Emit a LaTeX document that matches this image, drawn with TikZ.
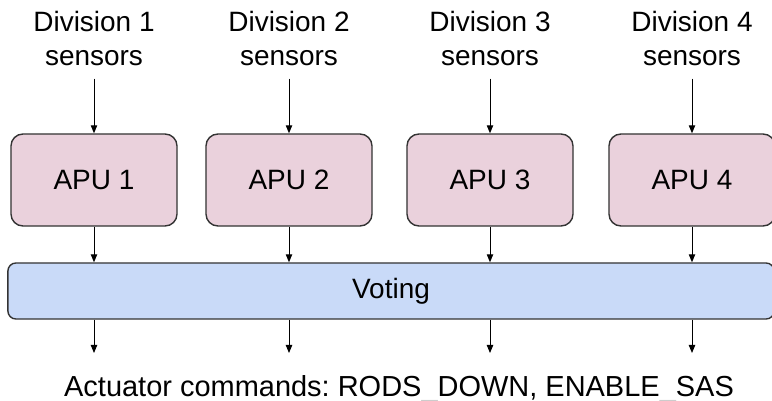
\documentclass[tikz,border=0pt]{standalone}
\usepackage{fontspec}
\setmainfont{Liberation Sans}
\usetikzlibrary{arrows.meta}

\definecolor{apupink}{HTML}{EAD1DC}
\definecolor{voteblue}{HTML}{C9DAF8}
\definecolor{edgegrey}{HTML}{333333}

\tikzset{
  apubox/.style={draw=edgegrey, line width=1pt, fill=apupink,
    rounded corners=0.3cm, minimum width=4.15cm, minimum height=2.3cm},
  votebox/.style={draw=edgegrey, line width=1pt, fill=voteblue,
    rounded corners=0.2cm, minimum width=19.15cm, minimum height=1.4cm},
  feed/.style={-{Triangle[length=2mm,width=1.6mm]}, line width=0.7pt},
}

\begin{document}
\frenchspacing
\begin{tikzpicture}[x=0.025cm, y=-0.025cm, font=\fontsize{19.9}{23.5}\selectfont]
    \useasboundingbox (0,0) rectangle (772,401);

    %% Voting stage
    \node[votebox] (vote) at (391,291) {Voting};

    %% The four divisions
    \foreach \i/\x in {1/94, 2/289, 3/490, 4/692} {
        \node[align=center, anchor=base] (div\i) at (\x,65) {Division \i\\sensors};
        \node[apubox] (apu\i) at (\x,180) {APU \i};
        \coordinate (out\i) at (\x,353);
        \draw[feed, shorten <=6pt] (div\i) -- (apu\i);
        \draw[feed] (apu\i) -- (apu\i |- vote.north);
        \draw[feed] (apu\i |- vote.south) -- (out\i);
    }

    %% Commands sent out
    \node[anchor=base, font=\fontsize{20.6}{24}\selectfont] (cmd) at (399,396)
        {Actuator commands: RODS\textcolor{gray!40}{\_}DOWN, ENABLE\textcolor{gray!40}{\_}SAS};
\end{tikzpicture}
\end{document}
